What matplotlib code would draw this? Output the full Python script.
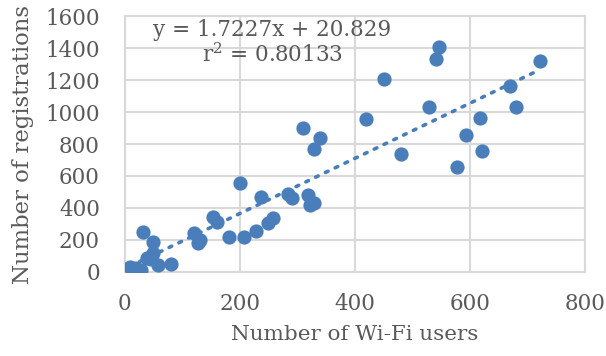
import matplotlib
matplotlib.use("Agg")
import matplotlib.pyplot as plt
import numpy as np

wifi_users = [9, 20, 28, 31, 38, 45, 49, 49, 58, 81,
              120, 127, 130, 153, 160, 181, 207, 229, 249, 257,
              200, 236, 283, 290, 318, 322, 329,
              310, 339, 329, 419, 450, 480,
              546, 541, 529, 577, 593, 617, 621, 670, 680, 722]
registrations = [31, 22, 12, 250, 87, 80, 187, 117, 44, 50,
                 244, 181, 200, 344, 313, 219, 219, 256, 306, 338,
                 556, 469, 488, 463, 481, 419, 431,
                 900, 837, 769, 956, 1206, 737,
                 1406, 1331, 1031, 656, 856, 963, 756, 1163, 1031, 1319]

slope = 1.7227
intercept = 20.829
eq_text = "y = 1.7227x + 20.829"
r2_text = "r$^2$ = 0.80133"

x_ticks = [0, 200, 400, 600, 800]
y_ticks = [0, 200, 400, 600, 800, 1000, 1200, 1400, 1600]

txt = "#595959"
blue = "#4A7EBB"
grid = "#D9D9D9"
plt.rcParams['font.family'] = ['DejaVu Serif']
plt.rcParams['mathtext.fontset'] = 'dejavuserif'

fig = plt.figure(figsize=(6.06, 3.56), dpi=100)
ax = fig.add_axes([0.206, 0.236, 0.759, 0.719])

ax.scatter(wifi_users, registrations, s=105, color=blue, zorder=3, linewidths=0)
xs = np.array([min(wifi_users), max(wifi_users)])
ax.plot(xs, slope * xs + intercept, linestyle=(0, (0.8, 2.2)), color=blue,
        linewidth=2.6, dash_capstyle='round', zorder=2)

ax.set_xlim(0, 800)
ax.set_ylim(0, 1600)
ax.set_xticks(x_ticks)
ax.set_yticks(y_ticks)
ax.grid(True, color=grid, linewidth=1.5, zorder=0)
ax.set_axisbelow(True)
for s in ax.spines.values():
    s.set_color(grid)
    s.set_linewidth(1.5)
ax.tick_params(length=0, labelsize=15.5, labelcolor=txt)
ax.tick_params(axis='y', pad=18)
ax.tick_params(axis='x', pad=15)
ax.set_xlabel("Number of Wi-Fi users", fontsize=15.4, color=txt, labelpad=7)
ax.set_ylabel("Number of registrations", fontsize=16.4, color=txt, labelpad=8)

ax.text(0.32, 0.945, eq_text, transform=ax.transAxes, ha='center', va='center',
        fontsize=15.5, color=txt)
ax.text(0.322, 0.848, r2_text, transform=ax.transAxes, ha='center', va='center',
        fontsize=15.5, color=txt)

fig.savefig("out.png", dpi=100)
